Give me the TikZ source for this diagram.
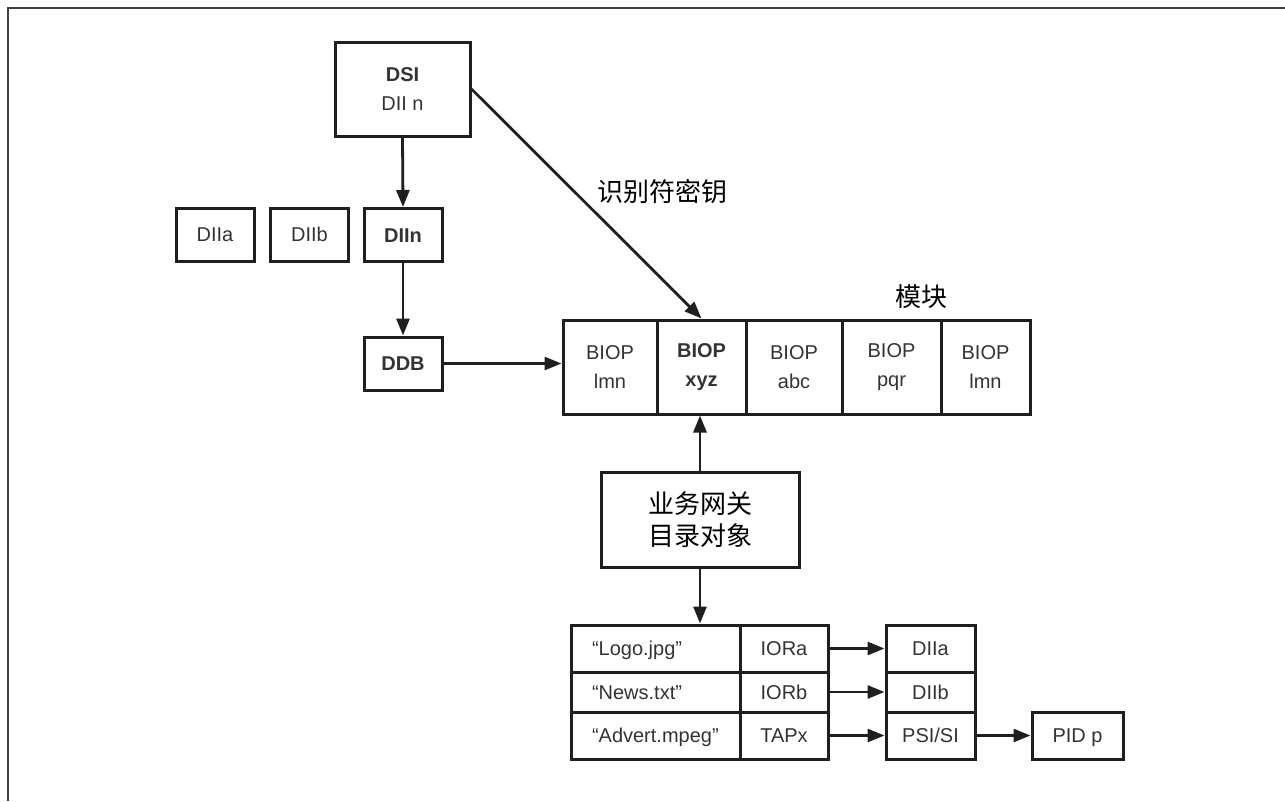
\documentclass[tikz,border=0pt]{standalone}
\usepackage{fontspec}
\setmainfont{Liberation Sans}
\newfontfamily\cjk{Noto Sans CJK SC}
\usetikzlibrary{arrows.meta}

\begin{document}
\begin{tikzpicture}[
    x=1pt, y=-1pt,
    font=\fontsize{20}{29}\selectfont,
    >={Triangle[length=17pt,width=13pt]},
    box/.style={draw=black!88, line width=3pt, text=black!80, align=center, inner sep=0pt},
    oneline/.style={box, text height=14.3pt, text depth=0pt},
    smallbox/.style={oneline, minimum width=78pt, minimum height=53pt},
    modcell/.style={box, minimum height=94pt},
    namecell/.style={oneline, text width=127pt, inner xsep=21pt, align=left},
    link/.style={draw=black!88, line width=2.8pt, ->},
    cjktext/.style={font=\cjk\fontsize{26}{32}\selectfont, text=black},
  ]
  \useasboundingbox (0,0) rectangle (1285,801);
  \draw[black!75, line width=2pt] (1285,8) -- (8,8) -- (8,801);

  % ---- DSI und DII ----
  \node[box, minimum width=135pt, minimum height=94pt] (dsi) at (402.5,89) {\textbf{DSI}\\DII n};
  \node[smallbox] (diia) at (215,234.5) {DIIa};
  \node[smallbox] (diib) at (309.5,234.5) {DIIb};
  \node[smallbox] (diin) at (403,235) {\textbf{DIIn}};
  \node[smallbox] (ddb) at (403,363.5) {\textbf{DDB}};
  \draw[link] (dsi.south) -- (diin.north);
  \draw[link] (diin.south) -- (ddb.north);

  % ---- module ----
  \node[modcell, minimum width=94pt] (biopa) at (610,367) {BIOP\\lmn};
  \node[modcell, minimum width=89pt] (biopb) at (701.5,367) {\textbf{BIOP}\\\textbf{xyz}};
  \node[modcell, minimum width=96pt] (biopc) at (794,367) {BIOP\\abc};
  \node[modcell, minimum width=99pt] (biopd) at (891.5,367) {BIOP\\pqr};
  \node[modcell, minimum width=89pt] (biope) at (985.5,367) {BIOP\\lmn};
  \node[cjktext] (modlbl) at (921,297) {模块};
  \draw[link] (ddb.east) -- (ddb.east -| biopa.west);
  \draw[link] (dsi.east) -- (biopb.north);
  \node[cjktext] (keylbl) at (662,192) {识别符密钥};

  % ---- gateway ----
  \node[box, minimum width=198pt, minimum height=95pt, font=\cjk\fontsize{26}{32}\selectfont, text=black] (gw) at (700,520) {业务网关\\目录对象};
  \draw[link] (gw.north) -- (gw.north |- biopb.south);

  % ---- table ----
  \node[namecell, minimum height=47pt] (logo) at (655.5,648.5) {“Logo.jpg”};
  \node[namecell, minimum height=40pt] (news) at (655.5,692) {“News.txt”};
  \node[namecell, minimum height=47pt] (advert) at (655.5,735.5) {“Advert.mpeg”};
  \node[oneline, minimum width=88pt, minimum height=47pt] (iora) at (784,648.5) {IORa};
  \node[oneline, minimum width=88pt, minimum height=40pt] (iorb) at (784,692) {IORb};
  \node[oneline, minimum width=88pt, minimum height=47pt] (tapx) at (784,735.5) {TAPx};
  \draw[link] (gw.south) -- (gw.south |- logo.north);

  \node[oneline, minimum width=89pt, minimum height=47pt] (tdiia) at (930.5,648.5) {DIIa};
  \node[oneline, minimum width=89pt, minimum height=40pt] (tdiib) at (930.5,692) {DIIb};
  \node[oneline, minimum width=89pt, minimum height=47pt] (psisi) at (930.5,735.5) {PSI/SI};
  \node[oneline, minimum width=91pt, minimum height=47pt] (pid) at (1077.5,735.5) {PID p};
  \draw[link] (iora.east) -- (tdiia.west);
  \draw[link] (iorb.east) -- (tdiib.west);
  \draw[link] (tapx.east) -- (psisi.west);
  \draw[link] (psisi.east) -- (pid.west);
\end{tikzpicture}
\end{document}
